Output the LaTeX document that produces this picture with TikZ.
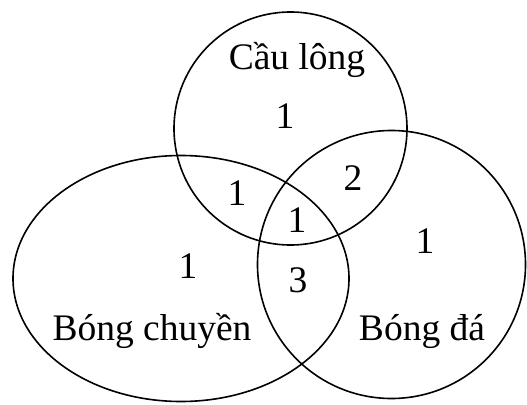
\documentclass[tikz,border=0pt]{standalone}
\usepackage{fontspec}
\setmainfont{Liberation Serif}
\usetikzlibrary{shapes.geometric}
\begin{document}
\begin{tikzpicture}[x=1pt,y=-1pt,
  set/.style={draw=black, line width=1.6pt, inner sep=0pt, outer sep=0pt},
  lbl/.style={inner sep=0pt, anchor=base, font=\fontsize{37.5}{40}\selectfont}]
\useasboundingbox (0,0) rectangle (527,404);
\node[set, circle, minimum size=233pt] (cl) at (290.5,128.5) {};
\node[set, ellipse, minimum width=336pt, minimum height=246pt] (bc) at (181,278.5) {};
\node[set, circle, minimum size=268pt] (bd) at (391.5,264.5) {};
\node[lbl] (tcl) at (297,70) {Cầu lông};
\node[lbl] (tbc) at (152,340) {Bóng chuyền};
\node[lbl] (tbd) at (422,340) {Bóng đá};
\node[lbl] (n1) at (285,128) {1};
\node[lbl] (n2) at (237,205) {1};
\node[lbl] (n3) at (353,190) {2};
\node[lbl] (n4) at (297,232) {1};
\node[lbl] (n5) at (425,253) {1};
\node[lbl] (n6) at (188,278) {1};
\node[lbl] (n7) at (298,292) {3};
\end{tikzpicture}
\end{document}
